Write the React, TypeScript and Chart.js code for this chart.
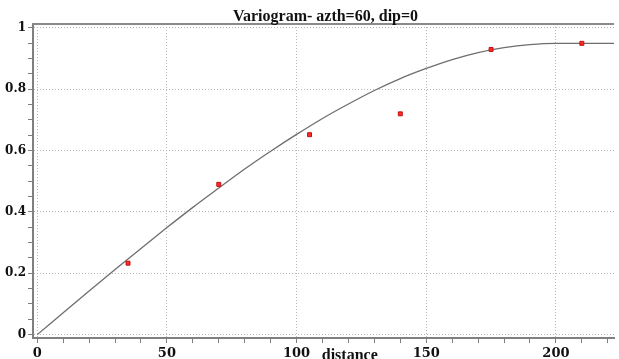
import React, { useEffect, useRef } from "react";
import { Chart, registerables } from "chart.js";

Chart.register(...registerables);

// Experimental variogram points (lag distance, semivariance)
const lagDistances = [35, 70, 105, 140, 175, 210];
const semivariance = [0.233, 0.49, 0.652, 0.72, 0.93, 0.95];

// Fitted model curve sampled along the distance axis
const modelLags = [0, 10, 20, 30, 40, 50, 60, 70, 80, 90, 100, 110, 120, 130, 140, 150, 160, 170, 180, 190, 200, 210, 220, 225];
const modelValues = [0, 0.071, 0.142, 0.212, 0.281, 0.349, 0.415, 0.478, 0.54, 0.598, 0.653, 0.705, 0.752, 0.796, 0.835, 0.868, 0.897, 0.92, 0.936, 0.946, 0.95, 0.95, 0.95, 0.95];

const xMajorTicks = [0, 50, 100, 150, 200];
const yMajorTicks = [0, 0.2, 0.4, 0.6, 0.8, 1];

const chartTitle = "Variogram- azth=60, dip=0";
const xAxisTitle = "distance";

const isMajor = (list: number[], v: number) => list.some((m) => Math.abs(m - v) < 1e-6);

const decorations = {
  id: "decorations",
  afterDraw(chart: any) {
    const { ctx, chartArea } = chart;
    ctx.save();
    // frame line along the top of the plot
    ctx.strokeStyle = "#8a8a8a";
    ctx.lineWidth = 2;
    ctx.beginPath();
    ctx.moveTo(chartArea.left, chartArea.top);
    ctx.lineTo(chartArea.right, chartArea.top);
    ctx.stroke();
    // title
    ctx.fillStyle = "#111";
    ctx.textAlign = "center";
    ctx.textBaseline = "alphabetic";
    ctx.font = 'bold 16px "Liberation Serif", serif';
    ctx.fillText(chartTitle, (chartArea.left + chartArea.right) / 2 + 2, 20.5);
    // x axis title, sitting beside the tick labels
    ctx.font = 'bold 16px "Liberation Serif", serif';
    const xs = chart.scales.x;
    ctx.fillText(xAxisTitle, xs.getPixelForValue(120.5), 360);
    ctx.restore();
  },
};

export default function App() {
  const canvasRef = useRef<HTMLCanvasElement | null>(null);

  useEffect(() => {
    if (!canvasRef.current) return;
    const chart = new Chart(canvasRef.current, {
      type: "scatter",
      data: {
        datasets: [
          {
            label: "experimental",
            data: lagDistances.map((x, i) => ({ x, y: semivariance[i] })),
            pointStyle: "rect",
            pointRadius: 2.8,
            backgroundColor: "#ff2a2a",
            borderColor: "#c01010",
            borderWidth: 1,
            showLine: false,
            order: 0,
          },
          {
            label: "model",
            data: modelLags.map((x, i) => ({ x, y: modelValues[i] })),
            showLine: true,
            pointRadius: 0,
            borderColor: "#6e6e6e",
            borderWidth: 1.3,
            cubicInterpolationMode: "monotone",
            order: 1,
          } as any,
        ],
      },
      options: {
        responsive: false,
        animation: false,
        layout: { padding: { top: 24, left: 0, right: 0, bottom: 0 } },
        plugins: {
          legend: { display: false },
          title: { display: false },
          tooltip: { enabled: false },
        },
        scales: {
          x: {
            type: "linear",
            min: -1.64,
            max: 222.4,
            afterFit: (scale: any) => {
              scale.height = 21;
            },
            ticks: {
              stepSize: 10,
              includeBounds: false,
              autoSkip: false,
              maxRotation: 0,
              padding: 3,
              color: "#111",
              font: { family: '"DejaVu Serif", serif', weight: "bold", size: 13 },
              callback: (v: any) => (isMajor(xMajorTicks, Number(v)) ? String(Math.round(Number(v))) : ""),
            },
            grid: {
              color: (ctx: any) => (ctx.tick && isMajor(xMajorTicks, ctx.tick.value) ? "#b8b8b8" : "rgba(0,0,0,0)"),
              tickColor: "#808080",
              tickLength: 5,
              lineWidth: 1,
            },
            border: { display: true, color: "#808080", width: 2, dash: [1, 2] },
          },
          y: {
            type: "linear",
            min: -0.011,
            max: 1.013,
            afterFit: (scale: any) => {
              scale.width = 33;
            },
            ticks: {
              stepSize: 0.05,
              includeBounds: false,
              autoSkip: false,
              padding: 2,
              color: "#111",
              font: { family: '"DejaVu Serif", serif', weight: "bold", size: 12 },
              callback: (v: any) => (isMajor(yMajorTicks, Number(v)) ? String(Math.round(Number(v) * 10) / 10) : ""),
            },
            grid: {
              color: (ctx: any) => (ctx.tick && isMajor(yMajorTicks, ctx.tick.value) ? "#b8b8b8" : "rgba(0,0,0,0)"),
              tickColor: "#808080",
              tickLength: 5,
              lineWidth: 1,
            },
            border: { display: true, color: "#808080", width: 2, dash: [1, 2] },
          },
        },
      },
      plugins: [decorations],
    });
    return () => chart.destroy();
  }, []);

  return (
    <div style={{ position: "fixed", left: 0, top: 0, width: 619, height: 359, background: "#fff" }}>
      <canvas ref={canvasRef} width={619} height={359} style={{ display: "block" }} />
    </div>
  );
}
